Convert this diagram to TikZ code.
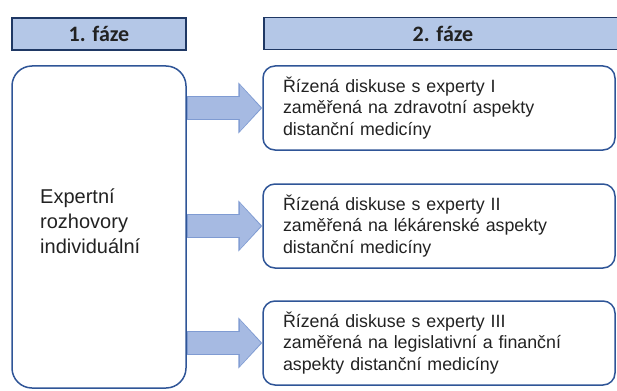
\documentclass[tikz,border=0pt]{standalone}
\usepackage{fontspec}
\setmainfont{Liberation Sans}
\newfontfamily\hdrfont{Carlito}
\definecolor{HdrFill}{HTML}{B4C7E7}
\definecolor{HdrEdge}{HTML}{1F3864}
\definecolor{BoxEdge}{HTML}{2F5597}
\definecolor{ArrFill}{HTML}{A6BAE2}
\definecolor{ArrEdge}{HTML}{7F9BD2}
\definecolor{TxtDark}{HTML}{222222}
\usetikzlibrary{arrows.meta,positioning,calc}
\tikzset{
  phasehdr/.style={draw=HdrEdge, fill=HdrFill, line width=1.6pt, minimum height=32pt,
                 inner sep=0pt, font=\hdrfont\bfseries\fontsize{22}{26}\selectfont, text=TxtDark},
  bigbox/.style={draw=BoxEdge, line width=1.5pt, rounded corners=20pt, minimum width=174pt,
                 minimum height=322pt, inner sep=0pt},
  bigtxt/.style={align=left, font=\fontsize{20}{25}\selectfont, text=TxtDark, inner sep=0pt},
  talkbox/.style={draw=BoxEdge, line width=1.5pt, rounded corners=12pt, minimum width=352pt,
                 minimum height=84pt, text width=312pt, inner xsep=20pt, align=left,
                 font=\fontsize{17.8}{21.5}\selectfont, text=TxtDark},
  arrback/.style={draw=ArrEdge, line width=24pt, -{Triangle[length=24pt,width=50pt]}},
  arrfront/.style={draw=ArrFill, line width=22pt, -{Triangle[length=21pt,width=45pt]}}
}
\begin{document}
\begin{tikzpicture}[x=1pt, y=-1pt]
\useasboundingbox (0,0) rectangle (617,390);
% phase headers
\node[phasehdr, minimum width=174pt] (ph1) at (99,34) {1. fáze};
\node[phasehdr, minimum width=358pt] (ph2) at (443,33.5) {2. fáze};
% phase 1
\node[bigbox] (exp) at (99,227) {};
\node[bigtxt, anchor=west] (expt) at (40,221) {Expertní\\rozhovory\\individuální};
% phase 2
\node[talkbox] (d1) at (439,108) {Řízená diskuse s experty I\\zaměřená na zdravotní aspekty\\distanční medicíny};
\node[talkbox] (d2) at (439,226) {Řízená diskuse s experty II\\zaměřená na lékárenské aspekty\\distanční medicíny};
\node[talkbox] (d3) at (439,343) {Řízená diskuse s experty III\\zaměřená na legislativní a finanční\\aspekty distanční medicíny};
% block arrows
\foreach \d in {d1,d2,d3}{
  \draw[arrback] (exp.east |- \d.west) -- (\d.west);
  \draw[arrfront] ($(exp.east |- \d.west)+(1,0)$) -- ($(\d.west)+(-1.5,0)$);
}
\end{tikzpicture}
\end{document}
